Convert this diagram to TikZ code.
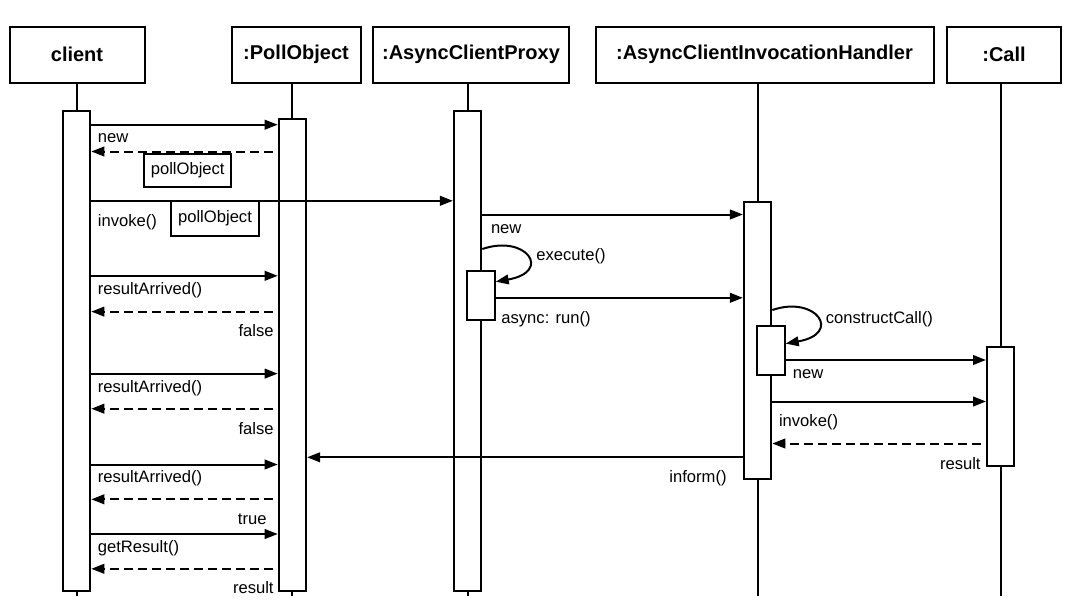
\documentclass[tikz,border=0pt]{standalone}
\usepackage{fontspec}
\setmainfont{Liberation Sans}
\usetikzlibrary{arrows.meta, positioning, backgrounds, calc}
\newcommand\msgfont{\fontsize{8.3}{10}\selectfont}
\tikzset{
  objbox/.style={
    rectangle, draw, line width=1pt, fill=white,
    minimum height=27.8pt, text centered,
    font=\fontsize{10}{12}\selectfont\bfseries
  },
  actbar/.style={
    rectangle, draw, line width=1pt, fill=white,
    minimum width=13.7pt, inner sep=0pt, anchor=north
  },
  notebox/.style={
    rectangle, draw, line width=1pt, fill=white,
    inner sep=0pt, font=\msgfont
  },
  lifeline/.style={line width=1pt},
  callarrow/.style={-{Triangle[length=6.5pt,width=4.8pt]}, line width=1pt},
  replyarrow/.style={callarrow, dash pattern=on 4.3pt off 2.7pt, shorten <=2.6pt},
  msglabel/.style={inner sep=0pt, font=\msgfont, text height=6.2pt, text depth=1.8pt},
}

\begin{document}
\begin{tikzpicture}[x=0.5pt,y=-0.5pt]
      \useasboundingbox (0,0) rectangle (1070,615);
      \node[objbox,minimum width=67.5pt](hc)at(77,54.75)   {client};
      \node[objbox,minimum width=64.5pt](hp)at(296,54.75)  {:PollObject};
      \node[objbox,minimum width=98pt]  (hx)at(471,54.75)  {:AsyncClientProxy};
      \node[objbox,minimum width=169pt] (hh)at(764.5,54.75){:AsyncClientInvocationHandler};
      \node[objbox,minimum width=57pt]  (hk)at(1004,54.75) {:Call};
      \node[actbar,minimum height=240pt] (bc) at(76.6,110)  {};
      \node[actbar,minimum height=236pt] (bp) at(292.4,118) {};
      \node[actbar,minimum height=240pt] (bx) at(467.6,110) {};
      \node[actbar,minimum height=138.5pt](bh)at(757.6,201) {};
      \node[actbar,minimum height=59.5pt](bk) at(1000.7,346){};
      \node[actbar,minimum height=24.6pt](bxs)at(481,269.6) {};
      \node[actbar,minimum height=24.3pt](bhs)at(771,325.4) {};
      \coordinate (lend) at (0,596);
      \begin{scope}[on background layer]
        \foreach \h/\b in {hc/bc,hp/bp,hx/bx,hh/bh,hk/bk}
          \draw[lifeline](\h.south -| \b.north)--(\b.north |- lend);
      \end{scope}
      \coordinate (newpoll) at (0,124.7);
      \coordinate (retpoll) at (0,151.5);
      \coordinate (invoke)  at (0,200.8);
      \coordinate (newhdl)  at (0,214.5);
      \coordinate (execa)   at (0,249);
      \coordinate (execb)   at (0,281.7);
      \coordinate (runasync)at (0,297.8);
      \coordinate (ra1)     at (0,275.8);
      \coordinate (ret1)    at (0,311.6);
      \coordinate (ra2)     at (0,373.6);
      \coordinate (ret2)    at (0,408.7);
      \coordinate (cca)     at (0,310);
      \coordinate (ccb)     at (0,343.6);
      \coordinate (newcall) at (0,360);
      \coordinate (invcall) at (0,401.5);
      \coordinate (retcall) at (0,443.5);
      \coordinate (inform)  at (0,457.3);
      \coordinate (ra3)     at (0,464.5);
      \coordinate (ret3)    at (0,499.3);
      \coordinate (getres)  at (0,534);
      \coordinate (retres)  at (0,568.8);
      \draw[callarrow](bc.east |- newpoll)--(bp.west |- newpoll);
      \draw[replyarrow](bp.west |- retpoll)--(bc.east |- retpoll);
      \draw[callarrow](bc.east |- invoke)--(bx.west |- invoke);
      \draw[callarrow](bx.east |- newhdl)--(bh.west |- newhdl);
      \draw[callarrow](bx.east |- execa) .. controls +(44,-15) and +(57,-10) .. (bxs.east |- execb);
      \draw[callarrow](bxs.east |- runasync)--(bh.west |- runasync);
      \draw[callarrow](bc.east |- ra1)--(bp.west |- ra1);
      \draw[replyarrow](bp.west |- ret1)--(bc.east |- ret1);
      \draw[callarrow](bc.east |- ra2)--(bp.west |- ra2);
      \draw[replyarrow](bp.west |- ret2)--(bc.east |- ret2);
      \draw[callarrow](bh.east |- cca) .. controls +(44,-15) and +(57,-10) .. (bhs.east |- ccb);
      \draw[callarrow](bhs.east |- newcall)--(bk.west |- newcall);
      \draw[callarrow](bh.east |- invcall)--(bk.west |- invcall);
      \draw[replyarrow](bk.west |- retcall)--(bh.east |- retcall);
      \draw[callarrow](bh.west |- inform)--(bp.east |- inform);
      \draw[callarrow](bc.east |- ra3)--(bp.west |- ra3);
      \draw[replyarrow](bp.west |- ret3)--(bc.east |- ret3);
      \draw[callarrow](bc.east |- getres)--(bp.west |- getres);
      \draw[replyarrow](bp.west |- retres)--(bc.east |- retres);
      \node[notebox,minimum width=43.5pt,minimum height=16.5pt](po1)at(187.7,170.5){pollObject};
      \node[notebox,minimum width=44pt,minimum height=17.5pt]  (po2)at(215,218.4)  {pollObject};
      \node[msglabel,anchor=west](l1) at(97.5,137.7){new};
      \node[msglabel,anchor=west](l2) at(97.5,222)  {invoke()};
      \node[msglabel,anchor=west](l3) at(490.6,229)  {new};
      \node[msglabel,anchor=west](l4) at(536,255.8)  {execute()};
      \node[msglabel,anchor=west](l5) at(501,318.8)  {async: run()};
      \node[msglabel,anchor=west](l6) at(97.5,290)  {resultArrived()};
      \node[msglabel,anchor=east](l7) at(274,332)   {false};
      \node[msglabel,anchor=west](l8) at(97.5,388.4){resultArrived()};
      \node[msglabel,anchor=east](l9) at(274,429.7) {false};
      \node[msglabel,anchor=west](l10)at(825.5,318.8){constructCall()};
      \node[msglabel,anchor=west](l11)at(792.4,374)  {new};
      \node[msglabel,anchor=west](l12)at(778.6,422)  {invoke()};
      \node[msglabel,anchor=east](l13)at(981,464.8)  {result};
      \node[msglabel,anchor=east](l14)at(727,478)    {inform()};
      \node[msglabel,anchor=west](l15)at(97.5,478)  {resultArrived()};
      \node[msglabel,anchor=east](l16)at(267,520.3) {true};
      \node[msglabel,anchor=west](l17)at(97.5,548.5){getResult()};
      \node[msglabel,anchor=east](l18)at(274,589)   {result};
    \end{tikzpicture}
\end{document}
